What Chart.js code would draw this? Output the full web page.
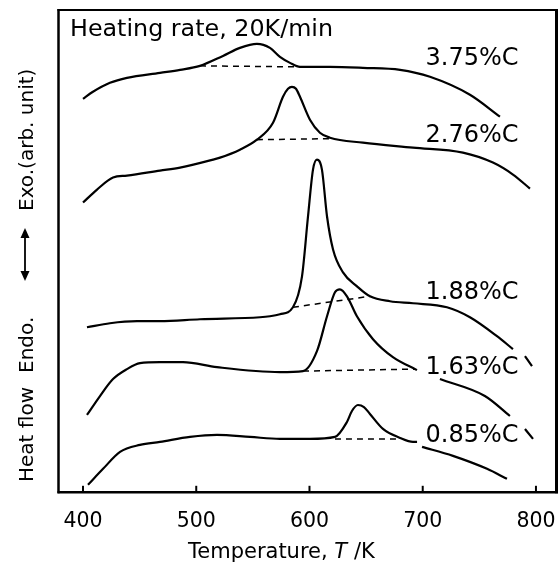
<!DOCTYPE html>
<html><head><meta charset="utf-8">
<script src="https://cdn.jsdelivr.net/npm/chart.js@4.4.1/dist/chart.umd.min.js"></script>
<style>html,body{margin:0;padding:0;background:#fff}canvas{display:block}</style>
</head><body>
<canvas id="c" width="559" height="563"></canvas>
<script>
// ---- data (temperature in K, heat flow in arbitrary units; null = break in the trace) ----
const xTicks = [400, 500, 600, 700, 800];
const curveLabels = ['3.75%C', '2.76%C', '1.88%C', '1.63%C', '0.85%C'];

const t375 = [400, 408.8, 423.8, 438.8, 468.0, 485.7, 503.3, 523.6, 538.6, 553.6, 565.1, 573.9, 582.8, 591.6, 603.1, 618.1, 647.2, 680.0, 706.4, 741.7, 768.2];
const h375 = [394, 401, 410, 415, 420, 423, 427, 437, 445, 449, 445, 436, 430, 426, 426, 426, 425, 423, 416, 398, 376];
const b375T = [503.3, 591.6];
const b375H = [427, 426];

const t276 = [400, 412.4, 426.5, 438.8, 468.0, 485.7, 514.8, 521.0, 538.6, 553.6, 567.8, 576.6, 581.0, 584.5, 588.1, 591.6, 600.4, 609.2, 618.1, 647.2, 691.4, 735.5, 762.0, 779.7, 794.7];
const h276 = [290, 303, 315, 317, 322, 325, 333, 335, 343, 353, 370, 396, 404, 406, 404, 396, 373, 360, 355, 350, 345, 340, 330, 318, 304];
const b276T = [553.6, 618.1];
const b276H = [353, 354];

const t188 = [403.5, 423.8, 447.7, 468.0, 503.3, 556.3, 565.1, 573.9, 585.4, 593.4, 598.7, 603.1, 606.6, 611.0, 615.5, 620.8, 629.6, 642.0, 653.4, 671.1, 691.4, 721.4, 741.7, 765.6, 779.7, 785.0, 790.3, 796.5];
const h188 = [165, 169, 171, 171, 173, 175, 176, 178, 185, 216, 276, 323, 333, 323, 276, 243, 220, 206, 196, 191, 189, 185, 175, 156, 143, null, 136, 126];
const b188T = [585.4, 653.4];
const b188H = [185, 196];

const t163 = [403.5, 415.0, 426.5, 438.8, 450.3, 468.0, 488.3, 518.3, 573.9, 594.3, 606.6, 615.5, 622.5, 626.9, 633.1, 641.9, 656.1, 673.7, 694.9, 705.0, 715.2, 754.9, 777.0, 783.0, 790.3, 797.4];
const h163 = [77, 96, 113, 123, 129, 130, 130, 125, 120, 121, 141, 176, 200, 203, 196, 176, 153, 135, 122, null, 113, 96, 76, null, 63, 53];
const b163T = [594.3, 693.2];
const b163H = [121, 123];

const t085 = [404.4, 417.7, 432.7, 450.3, 468.0, 494.5, 518.3, 547.5, 573.9, 600.4, 622.5, 633.1, 637.5, 642.8, 648.1, 653.4, 664.9, 680.0, 691.4, 695.0, 697.0, 699.4, 726.7, 756.8, 774.4];
const h085 = [7, 23, 40, 47, 50, 55, 57, 55, 53, 53, 55, 70, 81, 87, 85, 78, 63, 54, 50, 50, null, 45, 36, 23, 13];
const b085T = [622.5, 680.0];
const b085H = [53, 53];

// ---- build ----
const FONT = '"DejaVu Sans", "Liberation Sans", Arial, sans-serif';
function pts(ts, hs) { return ts.map((t, i) => ({ x: t, y: hs[i] })); }
function curve(ts, hs) {
  return { data: pts(ts, hs), borderColor: '#000', borderWidth: 2.2, pointRadius: 0,
           cubicInterpolationMode: 'monotone', fill: false, spanGaps: false };
}
function base(ts, hs) {
  return { data: pts(ts, hs), borderColor: '#000', borderWidth: 1.5, borderDash: [6, 5],
           pointRadius: 0, fill: false };
}

const labelT = 702.5;
const labelH = [428, 351, 193, 118, 50];

const decor = {
  id: 'decor',
  beforeDraw(chart) {
    const c = chart.ctx;
    c.save(); c.fillStyle = '#fff'; c.fillRect(0, 0, chart.width, chart.height); c.restore();
  },
  afterDraw(chart) {
    const c = chart.ctx, a = chart.chartArea, xs = chart.scales.x, ys = chart.scales.y;
    c.save();
    c.strokeStyle = '#000'; c.fillStyle = '#000'; c.lineCap = 'butt';
    function ln(x1, y1, x2, y2, w) { c.lineWidth = w; c.beginPath(); c.moveTo(x1, y1); c.lineTo(x2, y2); c.stroke(); }
    // frame
    ln(a.left - 0.5, a.top - 1, a.left - 0.5, a.bottom + 1.5, 2.5);
    ln(a.left - 1.5, a.top, a.right + 2, a.top, 2);
    ln(a.right + 0.5, a.top - 1, a.right + 0.5, a.bottom + 1.5, 3);
    ln(a.left - 1.5, a.bottom + 0.5, a.right + 2, a.bottom + 0.5, 2.5);
    // inward tick marks
    xTicks.forEach(v => { const px = xs.getPixelForValue(v); ln(px, a.bottom, px, a.bottom - 6, 2); });

    // curve labels
    c.textBaseline = 'alphabetic'; c.textAlign = 'left';
    c.font = '24px ' + FONT;
    curveLabels.forEach((s, i) => c.fillText(s, xs.getPixelForValue(labelT), ys.getPixelForValue(labelH[i])));
    // header
    c.font = '23.8px ' + FONT;
    c.fillText('Heating rate, 20K/min', xs.getPixelForValue(388.5), ys.getPixelForValue(457));

    // x title with italic T
    let x = 188; const yb = 558;
    c.font = '21px ' + FONT;
    c.fillText('Temperature, ', x, yb); x += c.measureText('Temperature, ').width;
    c.font = 'italic 21px ' + FONT;
    c.fillText('T', x, yb); x += c.measureText('T').width;
    c.font = '21px ' + FONT;
    c.fillText(' /K', x, yb);

    // y title (rotated)
    c.save();
    c.translate(33, 0);
    c.rotate(-Math.PI / 2);
    c.font = '20px ' + FONT;
    c.fillText('Heat flow', -482, 0);
    c.fillText('Endo.', -373, 0);
    c.fillText('Exo.(arb. unit)', -211, 0);
    c.restore();
    // double arrow
    const ax = 25, y1 = 228, y2 = 281;
    ln(ax, y1 + 6, ax, y2 - 6, 1.8);
    c.beginPath(); c.moveTo(ax, y1); c.lineTo(ax - 4.5, y1 + 10); c.lineTo(ax + 4.5, y1 + 10); c.closePath(); c.fill();
    c.beginPath(); c.moveTo(ax, y2); c.lineTo(ax - 4.5, y2 - 10); c.lineTo(ax + 4.5, y2 - 10); c.closePath(); c.fill();
    c.restore();
  }
};

new Chart(document.getElementById('c'), {
  type: 'line',
  data: {
    datasets: [
      curve(t375, h375), base(b375T, b375H),
      curve(t276, h276), base(b276T, b276H),
      curve(t188, h188), base(b188T, b188H),
      curve(t163, h163), base(b163T, b163H),
      curve(t085, h085), base(b085T, b085H)
    ]
  },
  options: {
    responsive: false, animation: false,
    layout: { padding: { left: 59, top: 10, right: 3, bottom: 10.6 } },
    plugins: { legend: { display: false }, tooltip: { enabled: false } },
    scales: {
      x: {
        type: 'linear', min: 378.8, max: 817.7,
        grid: { display: false, drawTicks: false }, border: { display: false },
        afterBuildTicks: s => { s.ticks = xTicks.map(v => ({ value: v })); },
        afterFit: s => { s.paddingLeft = 0; s.paddingRight = 0; },
        ticks: { font: { family: FONT, size: 20.5 }, color: '#000', padding: 18, maxRotation: 0 }
      },
      y: { type: 'linear', display: false, min: 0, max: 483 }
    }
  },
  plugins: [decor]
});
</script>
</body></html>
